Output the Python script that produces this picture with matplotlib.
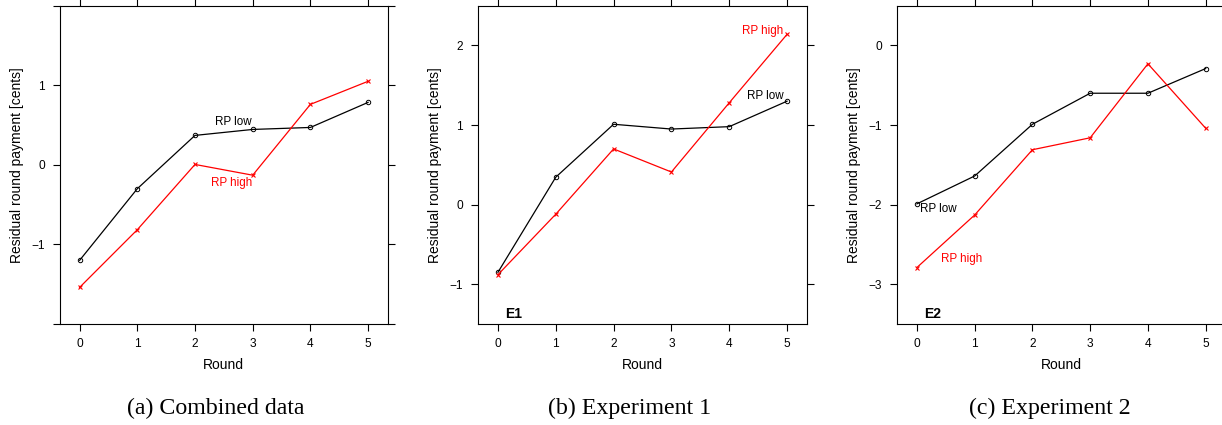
import matplotlib
matplotlib.use('Agg')
import matplotlib.pyplot as plt

plt.rcParams['font.family'] = ['Liberation Sans', 'DejaVu Sans']

rounds = [0, 1, 2, 3, 4, 5]

# (a) combined data
comb_low = [-1.20, -0.30, 0.37, 0.445, 0.47, 0.785]
comb_high = [-1.54, -0.815, 0.005, -0.13, 0.76, 1.05]
# (b) experiment 1
e1_low = [-0.85, 0.345, 1.01, 0.95, 0.98, 1.30]
e1_high = [-0.88, -0.12, 0.70, 0.41, 1.28, 2.14]
# (c) experiment 2
e2_low = [-1.99, -1.64, -0.99, -0.60, -0.60, -0.29]
e2_high = [-2.79, -2.13, -1.31, -1.16, -0.23, -1.04]

captions = ['(a) Combined data', '(b) Experiment 1', '(c) Experiment 2']
ylims = [(-2, 2), (-1.5, 2.5), (-3.5, 0.5)]
yticks = [[-2, -1, 0, 1, 2], [-1, 0, 1, 2], [-3, -2, -1, 0]]
ylabels = [['', '\u22121', '0', '1', ''], ['\u22121', '0', '1', '2'],
           ['\u22123', '\u22122', '\u22121', '0']]

W, H = 1222, 425
fig = plt.figure(figsize=(W / 100, H / 100), dpi=100)

# panel boxes in pixels: left, top, width, height
boxes = [(60, 5.7, 327.7, 318.3), (478.3, 5.7, 328.4, 318.3), (897.3, 5.7, 328.0, 318.3)]
cap_x = [216, 630, 1050]

axes = []
for i, (l, t, w, h) in enumerate(boxes):
    ax = fig.add_axes([l / W, 1 - (t + h) / H, w / W, h / H])
    ax.set_xlim(-0.34, 5.34)
    ax.set_ylim(*ylims[i])
    ax.set_xticks(rounds)
    ax.set_yticks(yticks[i])
    ax.set_yticklabels(ylabels[i])
    ax.tick_params(direction='out', length=5, width=0.8, labelsize=8.6,
                   top=True, right=True, colors='black')
    ax.tick_params(axis='x', pad=5)
    ax.tick_params(axis='y', pad=6)
    for s in ax.spines.values():
        s.set_linewidth(0.8)
    ax.set_xlabel('Round', fontsize=10)
    ax.set_ylabel('Residual round payment [cents]', fontsize=10)
    ax.xaxis.set_label_coords(0.5, -(358 - 324) / h)
    ax.yaxis.set_label_coords(-(44 - 8) / w, 0.5)
    fig.text(cap_x[i] / W, 1 - 414 / H, captions[i], ha='center', va='baseline',
             family=['Liberation Serif', 'DejaVu Serif'], fontsize=17.2)
    axes.append(ax)

series = [(comb_low, comb_high), (e1_low, e1_high), (e2_low, e2_high)]
for ax, (lo, hi) in zip(axes, series):
    ax.plot(rounds, lo, color='black', lw=0.9, marker='o', ms=3.2, mfc='none', mew=0.7)
    ax.plot(rounds, hi, color='red', lw=0.9, marker='x', ms=3.2, mew=0.8)

ax1, ax2, ax3 = axes
ax1.text(2.67, 0.54, 'RP low', ha='center', va='center', fontsize=8.4)
ax1.text(2.63, -0.227, 'RP high', ha='center', va='center', fontsize=8.4, color='red')

ax2.text(4.94, 2.18, 'RP high', ha='right', va='center', fontsize=8.4, color='red')
ax2.text(4.94, 1.37, 'RP low', ha='right', va='center', fontsize=8.4)
ax2.text(0.13, -1.38, 'E1', ha='left', va='center', fontsize=10, fontweight='bold')

ax3.text(0.06, -2.06, 'RP low', ha='left', va='center', fontsize=8.4)
ax3.text(0.42, -2.68, 'RP high', ha='left', va='center', fontsize=8.4, color='red')
ax3.text(0.12, -3.37, 'E2', ha='left', va='center', fontsize=10, fontweight='bold')

fig.savefig('out.png', dpi=100)
